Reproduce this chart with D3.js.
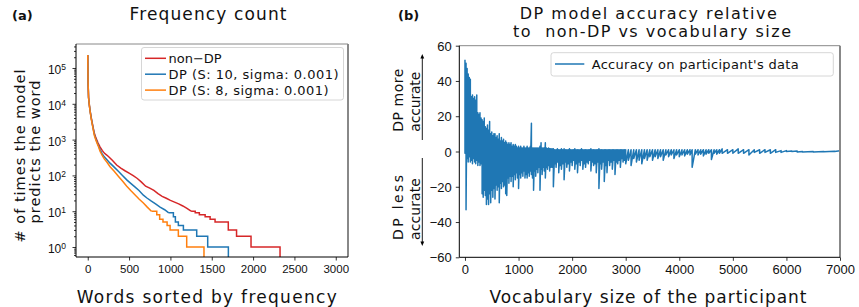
<!DOCTYPE html>
<meta charset="utf-8">
<head>
<script src="https://d3js.org/d3.v7.min.js"></script>
<style>
  body { margin: 0; background: #fff; }
  svg { font-family: "DejaVu Sans", sans-serif; }
  svg text { fill: #111; }
</style>
</head>
<body>
<svg></svg>
<script>
// ---- panel (a): frequency count, [rank, count] ----
var nonDP = [[0,230000],[4,40000],[10,15000],[20,9000],[30,6000],[45,3800],[60,2500],[80,1500],[100,1100],[125,800],
  [150,620],[175,500],[200,420],[230,370],[260,320],[300,260],[350,195],[400,160],[450,135],[500,115],[550,98],
  [600,82],[650,65],[700,50],[750,44],[800,38],[850,31],[900,26],[950,23],[1000,20],[1050,18],[1100,16],[1150,14],
  [1200,12],[1250,10],[1300,9],[1350,8],[1420,7],[1480,6],[1540,5],[1700,3],[1800,2],[1975,1],[2326,0]];
var dpS10 = [[0,230000],[4,40000],[10,15000],[20,9000],[30,6000],[45,3700],[60,2400],[80,1400],[100,1000],[125,720],
  [150,520],[175,400],[200,330],[235,270],[270,220],[320,170],[370,130],[420,100],[472,75],[520,60],[570,48],
  [620,38],[673,28],[720,23],[770,19],[820,16],[875,13],[930,11],[980,9],[1036,7],[1060,5],[1096,4],[1157,3],
  [1318,2],[1451,1],[1701,0]];
var dpS8 = [[0,230000],[4,40000],[10,15000],[20,9000],[30,5800],[45,3500],[60,2300],[80,1300],[100,950],[125,680],
  [150,470],[175,360],[200,290],[235,230],[270,175],[320,130],[370,95],[420,70],[472,50],[520,38],[570,29],
  [620,22],[673,17],[720,13],[770,10],[835,8],[870,6],[910,5],[960,4],[996,3],[1096,2],[1197,1],[1406,0]];
var freqNames = ["non\u2212DP", "DP (S: 10, sigma: 0.001)", "DP (S: 8, sigma: 0.001)"];
var freqColors = ["#d62728", "#1f77b4", "#ff7f0e"];
var freqXTicks = [0, 500, 1000, 1500, 2000, 2500, 3000];
var freqYTicks = [1, 10, 100, 1000, 10000, 100000];

// ---- panel (b): accuracy difference, envelope read per vocabulary size ----
var accX = [0,20,40,60,80,100,120,140,160,180,200,220,240,260,280,300,320,340,360,380,400,420,440,460,480,500,
  520,540,560,580,600,620,640,660,680,700,720,740,760,780,800,820,840,860,880,900,920,940,960,980,1000,
  1020,1040,1060,1080,1100,1120,1140,1160,1180,1200,1220,1240,1260,1280,1300,1320,1340,1360,1380,1400,
  1420,1440,1460,1480,1500,1520,1540,1560,1580,1600,
  1625,1650,1675,1700,1725,1750,1775,1800,1825,1850,1875,1900,1925,1950,1975,2000,2025,2050,2075,2100,
  2125,2150,2175,2200,2225,2250,2275,2300,2325,2350,2375,2400,2425,2450,2475,2500,2525,2550,2575,2600,
  2625,2650,2675,2700,2725,2750,2775,2800,2825,2850,2875,2900,2925,2950,2975,3000,
  3050,3100,3150,3200,3250,3300,3350,3400,3450,3500,3550,3600,
  3650,3700,3750,3800,3850,3900,3950,4000,4050,4100,4150,4200,4240,4300,4350,4400,4450,4500,4550,4600,
  4650,4700,4750,4800,4900,5000,5100,5200,5300,5400,5500,5600,5700,5800,5900,6000,6100,6200,6300,6500,
  6700,6900,7000];
var accHi = [52,50,47,44,42,41,31,32,30,31,29,32,22,21,22,19,18,17,19,14,13,15,12,17,10,11,
  9,10,10,8,9,7,10,6,8,6,7,5,6,5,4,5,4,5,3,4,3,4,3,2,3,
  2,3,2,2,3,2,2,3,2,2,3,16,2,2,2,2,2,2,2,3,
  5,2,2,2,5,2,1.5,2,1.5,1.5,
  1.5,1.5,1,1,1.5,1,1,1.5,1,1.5,1,1,1,1.5,1,1,1,1.5,1,1,
  1,1,1.5,1,1,1,1,1,1,1.5,1,1,1,1,1,1.5,1,1,1,1,
  1,1,1,1,1,1,1,1,1,1,1,1,1,1,1,1,
  1,1,1,1,1,1,1,1,1,1,1,1,
  1,1,1,1,1,1,1,1,1,1,1,1,1,1,1,1,1,1,1,1,
  1,1,1,1.5,1,1,1.5,1,1,1,1,1,1,1,0.5,0.5,0.3,0.3,0,0,
  0,0.2,0.5];
var accLo = [-1,-33,-4,-6,-3,-6,-5,-7,-4,-6,-7,-5,-8,-6,-8,-7,-24,-26,-22,-25,-30,-27,-30,-24,-29,-22,
  -26,-21,-27,-19,-22,-20,-29,-18,-21,-17,-20,-19,-24,-25,-15,-18,-14,-17,-14,-20,-13,-16,-12,-15,-21,
  -13,-15,-12,-14,-11,-15,-13,-15,-12,-14,-11,-13,-15,-22,-11,-14,-10,-12,-9,-22,
  -10,-13,-9,-11,-15,-9,-10,-8,-11,-9,
  -9,-20,-7,-9,-6,-12,-8,-10,-7,-16,-6,-9,-7,-11,-6,-8,-5,-10,-7,-12,
  -6,-8,-5,-10,-7,-9,-6,-7,-5,-11,-6,-8,-7,-12,-6,-21,-7,-10,-6,-17,
  -8,-12,-5,-8,-6,-10,-5,-13,-6,-7,-5,-9,-4,-6,-5,-7,
  -5,-8,-4,-6,-5,-7,-4,-5,-3,-5,-3,-4,
  -3,-5,-2,-3,-2,-4,-2,-3,-2,-2.5,-1.5,-2,-9,-1.5,-2,-1.5,-2.5,-1.5,-1,-4.5,
  -1,-1.5,-1,-1,-1,-1,-1,-1,-2,-0.5,-1,-0.5,-1,-0.5,-0.5,0,0,-0.3,-0.3,-0.3,
  -0.2,0,0.5];
var accXTicks = [0, 1000, 2000, 3000, 4000, 5000, 6000, 7000];
var accYTicks = [-60, -40, -20, 0, 20, 40, 60];

var width = 859, height = 307;
var svg = d3.select("svg").attr("width", width).attr("height", height);

function styleAxis(g, size) {
  g.select(".domain").remove();
  g.selectAll(".tick line").attr("stroke", "#000").attr("stroke-width", 0.8);
  g.selectAll(".tick text").attr("font-size", size).attr("fill", "#111");
}

function frame(g, x0, x1, y0, y1) {
  g.append("line").attr("x1", x0).attr("x2", x1).attr("y1", y0).attr("y2", y0).attr("stroke", "#888").attr("stroke-width", 1);
  g.append("line").attr("x1", x1).attr("x2", x1).attr("y1", y0).attr("y2", y1).attr("stroke", "#888").attr("stroke-width", 2);
  g.append("line").attr("x1", x0).attr("x2", x0).attr("y1", y0).attr("y2", y1).attr("stroke", "#000").attr("stroke-width", 1);
  g.append("line").attr("x1", x0).attr("x2", x1).attr("y1", y1).attr("y2", y1).attr("stroke", "#000").attr("stroke-width", 1);
}

// ================= panel (a) =================
var xA = d3.scaleLinear().domain([-142, 3148]).range([76, 348]);
var yA = d3.scaleLog().domain([0.526, 4.68e5]).range([257, 44]);
var gA = svg.append("g");

gA.append("clipPath").attr("id", "clipA").append("rect")
  .attr("x", 76).attr("y", 44).attr("width", 272).attr("height", 213);

function drawFreq(data, color) {
  // smooth head drawn as a line, integer tail as steps
  var k = data.findIndex(function (d) { return d[1] <= 10; });
  var lin = d3.line().x(function (d) { return xA(d[0]); }).y(function (d) { return yA(Math.max(d[1], 0.3)); });
  var stp = d3.line().curve(d3.curveStepAfter).x(function (d) { return xA(d[0]); }).y(function (d) { return yA(Math.max(d[1], 0.3)); });
  var g = gA.append("g").attr("clip-path", "url(#clipA)");
  g.append("path").attr("d", lin(data.slice(0, k + 1))).attr("fill", "none").attr("stroke", color).attr("stroke-width", 1.5);
  g.append("path").attr("d", stp(data.slice(k))).attr("fill", "none").attr("stroke", color).attr("stroke-width", 1.5);
}
drawFreq(nonDP, freqColors[0]);
drawFreq(dpS10, freqColors[1]);
drawFreq(dpS8, freqColors[2]);

frame(gA, 76, 348, 44, 257);

var axA = gA.append("g").attr("transform", "translate(0,257)")
  .call(d3.axisBottom(xA).tickValues(freqXTicks).tickSize(3.5).tickPadding(4).tickFormat(d3.format("d")));
styleAxis(axA, 11.5);

// log y axis: major ticks with superscript labels, minor ticks unlabelled
var minor = [];
[0.1, 1, 10, 100, 1000, 10000, 100000].forEach(function (p) {
  for (var m = 2; m <= 9; m++) { var v = m * p; if (v > 0.526 && v < 4.68e5) minor.push(v); }
});
var ayMinor = gA.append("g").attr("transform", "translate(76,0)")
  .call(d3.axisLeft(yA).tickValues(minor).tickSize(2).tickFormat(""));
styleAxis(ayMinor, 11);
var ayA = gA.append("g").attr("transform", "translate(76,0)")
  .call(d3.axisLeft(yA).tickValues(freqYTicks).tickSize(3.5).tickFormat(""));
styleAxis(ayA, 11);
ayA.selectAll(".tick").append("text")
  .attr("x", -10).attr("dy", "0.45em").attr("text-anchor", "end").attr("font-size", 12).attr("fill", "#111")
  .each(function (d) {
    var t = d3.select(this);
    t.append("tspan").text("10");
    t.append("tspan").attr("dy", "-0.45em").attr("font-size", 8.5).text(Math.round(Math.log10(d)));
  });

// legend (a)
var legA = gA.append("g");
legA.append("rect").attr("x", 141.5).attr("y", 47.5).attr("width", 202).attr("height", 52.5).attr("rx", 2.5)
  .attr("fill", "#fff").attr("fill-opacity", 0.8).attr("stroke", "#ccc").attr("stroke-width", 0.8);
freqNames.forEach(function (n, i) {
  var cy = 58.3 + i * 15.9;
  legA.append("line").attr("x1", 145).attr("x2", 166).attr("y1", cy).attr("y2", cy)
    .attr("stroke", freqColors[i]).attr("stroke-width", 1.5);
  var t = legA.append("text").attr("x", 168.5).attr("y", cy + 4.6).attr("font-size", 13).text(n);
  if (i > 0) t.attr("textLength", i === 1 ? 170 : 160).attr("lengthAdjust", "spacing");
});

// titles and labels (a)
svg.append("text").attr("x", 12).attr("y", 20).attr("font-size", 13).attr("font-weight", "bold").text("(a)");
svg.append("text").attr("x", 208).attr("y", 20).attr("text-anchor", "middle").attr("font-size", 17)
  .attr("textLength", 157).attr("lengthAdjust", "spacing").text("Frequency count");
svg.append("text").attr("x", 206.7).attr("y", 303).attr("text-anchor", "middle").attr("font-size", 17)
  .attr("textLength", 260).attr("lengthAdjust", "spacing").text("Words sorted by frequency");
svg.append("text").attr("transform", "translate(25,156)rotate(-90)").attr("text-anchor", "middle").attr("font-size", 14.5)
  .attr("textLength", 173).attr("lengthAdjust", "spacing").text("# of times the model");
svg.append("text").attr("transform", "translate(40,152)rotate(-90)").attr("text-anchor", "middle").attr("font-size", 14.5)
  .attr("textLength", 143).attr("lengthAdjust", "spacing").text("predicts the word");

// ================= panel (b) =================
var xB = d3.scaleLinear().domain([-106, 7000]).range([459.3, 840]);
var yB = d3.scaleLinear().domain([-60, 60]).range([257.3, 45.7]);
var gB = svg.append("g");

gB.append("clipPath").attr("id", "clipB").append("rect")
  .attr("x", 459.3).attr("y", 45.7).attr("width", 380.7).attr("height", 211.6);

// each sample contributes its upper then lower reading
var accPts = [];
accX.forEach(function (x, i) { accPts.push([x, accHi[i]]); accPts.push([x, accLo[i]]); });
var accLine = d3.line().x(function (d) { return xB(d[0]); }).y(function (d) { return yB(d[1]); });
gB.append("path").attr("clip-path", "url(#clipB)").attr("d", accLine(accPts))
  .attr("fill", "none").attr("stroke", "#1f77b4").attr("stroke-width", 1.5).attr("stroke-linejoin", "round");

frame(gB, 459.3, 840, 45.7, 257.3);

var axB = gB.append("g").attr("transform", "translate(0,257.3)")
  .call(d3.axisBottom(xB).tickValues(accXTicks).tickSize(3.5).tickPadding(4).tickFormat(d3.format("d")));
styleAxis(axB, 13);
var ayB = gB.append("g").attr("transform", "translate(459.3,0)")
  .call(d3.axisLeft(yB).tickValues(accYTicks).tickSize(3.5).tickPadding(4).tickFormat(d3.format("d")));
styleAxis(ayB, 13);
ayB.selectAll(".tick text").attr("dy", "0.36em");

// legend (b)
var legB = gB.append("g");
legB.append("rect").attr("x", 551).attr("y", 52.7).attr("width", 282.3).attr("height", 23.3).attr("rx", 2.5)
  .attr("fill", "#fff").attr("fill-opacity", 0.8).attr("stroke", "#ccc").attr("stroke-width", 0.8);
legB.append("line").attr("x1", 555).attr("x2", 584.3).attr("y1", 64).attr("y2", 64)
  .attr("stroke", "#1f77b4").attr("stroke-width", 1.5);
legB.append("text").attr("x", 591.7).attr("y", 68.6).attr("font-size", 13)
  .attr("textLength", 207).attr("lengthAdjust", "spacing").text("Accuracy on participant's data");

// titles and labels (b)
svg.append("text").attr("x", 398).attr("y", 20).attr("font-size", 13).attr("font-weight", "bold").text("(b)");
svg.append("text").attr("x", 648.3).attr("y", 19).attr("text-anchor", "middle").attr("font-size", 16)
  .attr("textLength", 257).attr("lengthAdjust", "spacing").text("DP model accuracy relative");
svg.append("text").attr("x", 652).attr("y", 36.5).attr("text-anchor", "middle").attr("font-size", 16)
  .attr("xml:space", "preserve").style("white-space", "pre")
  .attr("textLength", 278).attr("lengthAdjust", "spacing").text("to  non-DP vs vocabulary size");
svg.append("text").attr("x", 648).attr("y", 303).attr("text-anchor", "middle").attr("font-size", 17)
  .attr("textLength", 317).attr("lengthAdjust", "spacing").text("Vocabulary size of the participant");

function sideLabel(x, y, s, len) {
  svg.append("text").attr("transform", "translate(" + x + "," + y + ")rotate(-90)")
    .attr("font-size", 14).attr("textLength", len).attr("lengthAdjust", "spacing").text(s);
}
sideLabel(403.3, 131.7, "DP more", 63);
sideLabel(420, 131.7, "accurate", 60);
sideLabel(403.3, 240, "DP less", 65);
sideLabel(420, 240, "accurate", 62);

// arrows beside the side labels
var arr = svg.append("g").attr("stroke", "#000").attr("fill", "#000");
arr.append("line").attr("x1", 422.3).attr("x2", 422.3).attr("y1", 140).attr("y2", 57).attr("stroke-width", 0.9);
arr.append("path").attr("d", "M422.3,54 L420.4,58.5 L424.2,58.5 Z").attr("stroke", "none");
arr.append("line").attr("x1", 422.3).attr("x2", 422.3).attr("y1", 158).attr("y2", 243).attr("stroke-width", 0.9);
arr.append("path").attr("d", "M422.3,246 L420.4,241.5 L424.2,241.5 Z").attr("stroke", "none");
</script>
</body>
</html>
